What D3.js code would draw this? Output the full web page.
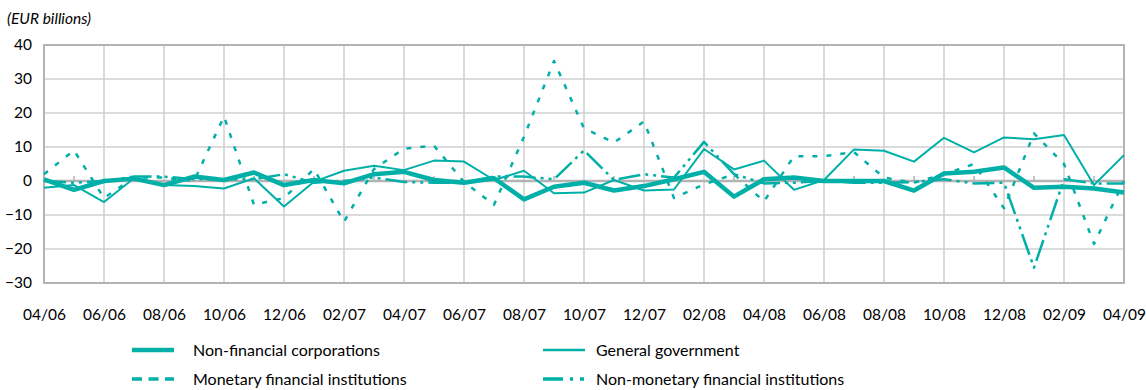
<!DOCTYPE html>
<html>
<head>
<meta charset="utf-8">
<script src="https://cdn.jsdelivr.net/npm/d3@7"></script>
<style>
  body { margin: 0; background: #fff; }
  svg { display: block; font-family: "Lato", "Open Sans", sans-serif; }
</style>
</head>
<body>
<div id="chart"></div>
<script>
// monthly flows, 04/06 .. 04/09
var months = ["04/06","05/06","06/06","07/06","08/06","09/06","10/06","11/06","12/06","01/07","02/07","03/07",
  "04/07","05/07","06/07","07/07","08/07","09/07","10/07","11/07","12/07","01/08","02/08","03/08",
  "04/08","05/08","06/08","07/08","08/08","09/08","10/08","11/08","12/08","01/09","02/09","03/09","04/09"];
var nonFinCorp = [0.5,-2.6,0,0.7,-1.2,1.3,0.3,2.5,-1.2,0.3,-0.7,2,
  2.7,0.3,-0.5,0.8,-5.4,-1.7,-0.5,-2.8,-1.5,0.5,2.7,-4.6,
  0.5,1,0,0,0,-2.8,2.2,2.7,4,-2,-1.7,-2.2,-3.4];
var generalGov = [-2,-1.2,-6.2,0.8,-1.2,-1.5,-2.2,0.8,-7.5,-0.2,3,4.5,
  3.2,6,5.7,0.3,3,-3.6,-3.4,0.3,-2.8,-2.5,9.4,3.4,
  6,-2.6,0.3,9.3,8.9,5.7,12.7,8.4,12.8,12.3,13.5,-1.2,7.6];
var monetaryFin = [2,9,-5,1,1,0,19,-7,-5,3.5,-12,3.5,
  9.5,10.4,-0.3,-7,13,35.3,15.5,11.3,17.5,-5,-1,2,
  -6,7.3,7.3,8.5,1,-0.5,2,5,-8,14,5,-18.5,0];
var nonMonetaryFin = [0,-0.5,0,1.3,1.3,0.5,0.5,0.5,2,-0.5,0,1,
  -0.3,-0.5,-0.5,1.3,1.3,0.5,9,0.3,2,1,11.5,2,
  -0.7,-0.5,0,-0.5,-0.5,-0.3,0.5,-0.7,-0.5,-25.5,0.5,-0.7,-0.7];
var yTicks = [-30,-20,-10,0,10,20,30,40];

var teal = "#00b0a8";
var series = [
  {name: "Non-financial corporations", values: nonFinCorp, width: 4.5, dash: null, legendDash: null, legendWidth: 4.5},
  {name: "General government", values: generalGov, width: 2, dash: null, legendDash: null, legendWidth: 2.5},
  {name: "Monetary financial institutions", values: monetaryFin, width: 2.5, dash: "5,9", legendDash: "10,6.5", legendWidth: 3.3},
  {name: "Non-monetary financial institutions", values: nonMonetaryFin, width: 2.5, dash: "22,5,3,5,3,5", legendDash: "20,7,3,7,4", legendWidth: 3.3}
];

var width = 1146, height = 390;
var svg = d3.select("#chart").append("svg").attr("width", width).attr("height", height);

var x = d3.scaleLinear().domain([0, months.length - 1]).range([44, 1124]);
var y = d3.scaleLinear().domain([-30, 40]).range([283, 45]);

svg.append("text").attr("x", 7).attr("y", 24).style("font-style", "italic").style("font-size", "15.5px")
  .style("fill", "#000").text("(EUR billions)");

// grid
var grid = svg.append("g");
grid.selectAll(".hg").data(yTicks).enter().append("line")
  .attr("x1", x(0)).attr("x2", x(36)).attr("y1", function(d) { return y(d); }).attr("y2", function(d) { return y(d); })
  .style("stroke", "#cfcfcf").style("stroke-width", 1.5);
grid.selectAll(".vg").data(d3.range(0, months.length, 2)).enter().append("line")
  .attr("x1", function(d) { return x(d); }).attr("x2", function(d) { return x(d); }).attr("y1", y(40)).attr("y2", y(-30))
  .style("stroke", "#cfcfcf").style("stroke-width", 1.5);
svg.append("rect").attr("x", x(0)).attr("y", y(40)).attr("width", x(36) - x(0)).attr("height", y(-30) - y(40))
  .style("fill", "none").style("stroke", "#b3b3b3").style("stroke-width", 2);

// zero line with month ticks
svg.append("line").attr("x1", x(0)).attr("x2", x(36)).attr("y1", y(0)).attr("y2", y(0))
  .style("stroke", "#b3b3b3").style("stroke-width", 2.5);
svg.selectAll(".zt").data(d3.range(1, months.length, 2)).enter().append("line")
  .attr("x1", function(d) { return x(d); }).attr("x2", function(d) { return x(d); })
  .attr("y1", y(0) - 5).attr("y2", y(0))
  .style("stroke", "#b3b3b3").style("stroke-width", 1.5);

// axes labels
var yAxis = d3.axisLeft(y).tickValues(yTicks).tickSize(0).tickPadding(12);
svg.append("g").attr("transform", "translate(" + x(0) + ",0)").call(yAxis)
  .call(function(g) { g.select(".domain").remove(); })
  .selectAll("text").style("font-size", "15.5px").style("fill", "#000").style("font-family", "Lato, sans-serif");

var xAxis = d3.axisBottom(x).tickValues(d3.range(0, months.length, 2)).tickSize(0).tickPadding(0)
  .tickFormat(function(d) { return months[d]; });
svg.append("g").attr("transform", "translate(0,309)").call(xAxis)
  .call(function(g) { g.select(".domain").remove(); })
  .selectAll("text").style("font-size", "15.5px").style("fill", "#000").style("font-family", "Lato, sans-serif");

// lines, thick one last so it sits on top
var line = d3.line().x(function(d, i) { return x(i); }).y(function(d) { return y(d); });
[3, 2, 1, 0].forEach(function(k) {
  var s = series[k];
  svg.append("path").datum(s.values).attr("d", line)
    .style("fill", "none").style("stroke", teal).style("stroke-width", s.width)
    .style("stroke-linejoin", "round")
    .style("stroke-dasharray", s.dash);
});

// legend
var legendPos = [[132, 350], [543, 350], [132, 379], [543, 379]];
series.forEach(function(s, k) {
  var p = legendPos[k];
  svg.append("line").attr("x1", p[0]).attr("x2", p[0] + 42).attr("y1", p[1]).attr("y2", p[1])
    .style("stroke", teal).style("stroke-width", s.legendWidth)
    .style("stroke-dasharray", s.legendDash);
  svg.append("text").attr("x", p[0] + (k % 2 === 0 ? 61 : 53)).attr("y", p[1] + 5.5)
    .style("font-size", "16px").style("fill", "#000").text(s.name);
});
</script>
</body>
</html>
